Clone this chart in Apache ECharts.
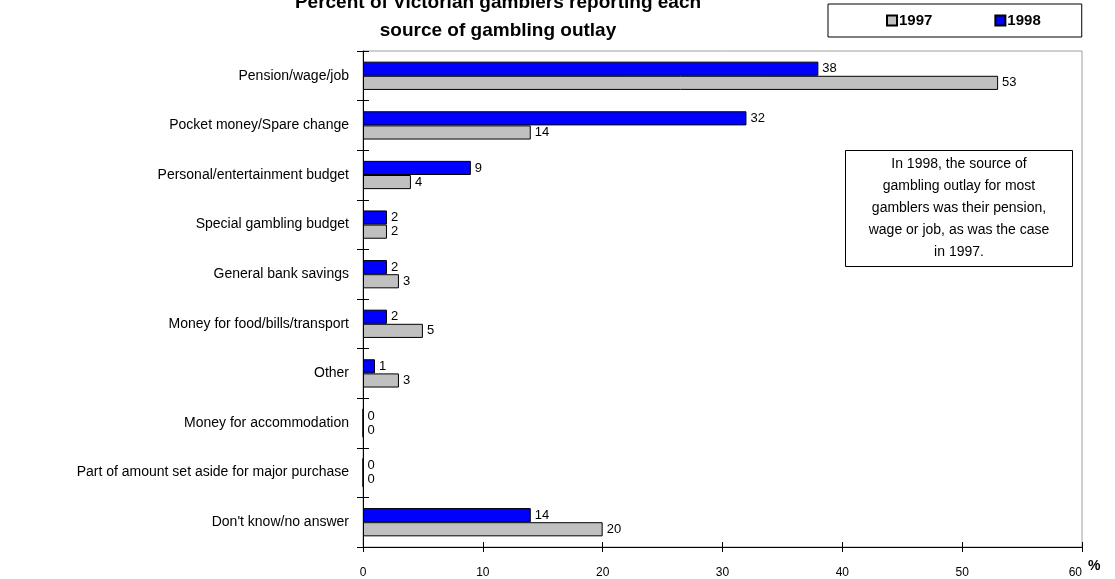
<!DOCTYPE html>
<html>
<head>
<meta charset="utf-8">
<script src="https://cdn.jsdelivr.net/npm/echarts@6/dist/echarts.min.js"></script>
<style>
  html, body { margin: 0; padding: 0; background: #fff; }
  #chart { width: 1115px; height: 579px; }
</style>
</head>
<body>
<div id="chart"></div>
<script>
// categories, top to bottom
const categories = [
  "Pension/wage/job",
  "Pocket money/Spare change",
  "Personal/entertainment budget",
  "Special gambling budget",
  "General bank savings",
  "Money for food/bills/transport",
  "Other",
  "Money for accommodation",
  "Part of amount set aside for major purchase",
  "Don't know/no answer"
];
const values1997 = [53, 14, 4, 2, 3, 5, 3, 0, 0, 20];
const values1998 = [38, 32, 9, 2, 2, 2, 1, 0, 0, 14];
const xTicks = [0, 10, 20, 30, 40, 50, 60];

const font = "Liberation Sans, Arial, sans-serif";

function echartSetup(container) {
  let myChart = echarts.init(document.getElementById(container));
  const labelStyle = {
    show: true,
    position: "right",
    distance: 4,
    color: "#000",
    fontSize: 13,
    fontFamily: font
  };
  const gridPos = { left: 363, right: 33, top: 51, bottom: 32 };
  const options = {
    animation: false,
    title: {
      text: "Percent of Victorian gamblers reporting each\nsource of gambling outlay",
      left: 493,
      textAlign: "center",
      top: -16,
      textStyle: {
        fontFamily: font,
        fontSize: 19,
        fontWeight: "bold",
        color: "#000",
        lineHeight: 28
      }
    },
    legend: {
      data: ["1997", "1998"],
      left: 828,
      top: 4,
      padding: [9, 41, 9, 58],
      itemGap: 62,
      itemWidth: 10,
      itemHeight: 10,
      icon: "rect",
      borderColor: "#000",
      borderWidth: 1,
      textStyle: {
        fontFamily: font,
        fontSize: 15,
        fontWeight: "bold",
        color: "#000",
        padding: [0, 0, 0, -3]
      }
    },
    grid: [
      Object.assign({ show: true, borderColor: "#a0a0a0", borderWidth: 1 }, gridPos),
      // second grid on the same spot, only for the inward half of the ticks
      Object.assign({ show: false }, gridPos)
    ],
    xAxis: [
      {
        type: "value",
        gridIndex: 0,
        min: 0,
        max: 60,
        interval: 10,
        name: "%",
        nameLocation: "end",
        nameGap: 0,
        nameTextStyle: {
          fontFamily: font,
          fontSize: 14,
          fontWeight: "bold",
          color: "#000",
          verticalAlign: "top",
          padding: [12, 0, 0, 0]
        },
        splitLine: { show: false },
        axisLine: { show: true, lineStyle: { color: "#000" } },
        axisTick: { show: true, length: 5, lineStyle: { color: "#000" } },
        axisLabel: {
          margin: 20,
          alignMaxLabel: "right",
          fontFamily: font,
          fontSize: 12,
          color: "#000",
          formatter: (v) => (xTicks.includes(v) ? String(v) : "")
        }
      },
      {
        type: "value",
        gridIndex: 1,
        min: 0,
        max: 60,
        interval: 10,
        splitLine: { show: false },
        axisLine: { show: false },
        axisTick: { show: true, inside: true, length: 5, lineStyle: { color: "#000" } },
        axisLabel: { show: false }
      }
    ],
    yAxis: [
      {
        type: "category",
        gridIndex: 0,
        data: categories,
        inverse: true,
        axisLine: { show: true, lineStyle: { color: "#000" } },
        axisTick: { show: true, length: 6, lineStyle: { color: "#000" } },
        axisLabel: {
          margin: 14,
          fontFamily: font,
          fontSize: 14,
          color: "#000"
        }
      },
      {
        type: "category",
        gridIndex: 1,
        data: categories,
        inverse: true,
        axisLine: { show: false },
        axisTick: { show: true, inside: true, length: 6, lineStyle: { color: "#000" } },
        axisLabel: { show: false }
      }
    ],
    graphic: [
      {
        type: "group",
        left: 845,
        top: 150,
        children: [
          {
            type: "rect",
            shape: { x: 0, y: 0, width: 227, height: 116 },
            style: { fill: "#fff", stroke: "#000", lineWidth: 1 }
          },
          {
            type: "text",
            x: 113.5,
            y: 3,
            style: {
              text: "In 1998, the source of\ngambling outlay for most\ngamblers was their pension,\nwage or job, as was the case\nin 1997.",
              fill: "#000",
              font: "14px " + font,
              lineHeight: 22,
              align: "center",
              verticalAlign: "top"
            }
          }
        ]
      }
    ],
    series: [
      {
        name: "1998",
        type: "bar",
        xAxisIndex: 0,
        yAxisIndex: 0,
        data: values1998,
        barGap: "0%",
        barCategoryGap: "43%",
        itemStyle: { color: "#0000ff", borderColor: "#000", borderWidth: 1 },
        label: labelStyle
      },
      {
        name: "1997",
        type: "bar",
        xAxisIndex: 0,
        yAxisIndex: 0,
        data: values1997,
        barGap: "0%",
        barCategoryGap: "43%",
        itemStyle: { color: "#c0c0c0", borderColor: "#000", borderWidth: 1 },
        label: labelStyle
      }
    ]
  };
  myChart.setOption(options);
}
echartSetup("chart");
</script>
</body>
</html>
